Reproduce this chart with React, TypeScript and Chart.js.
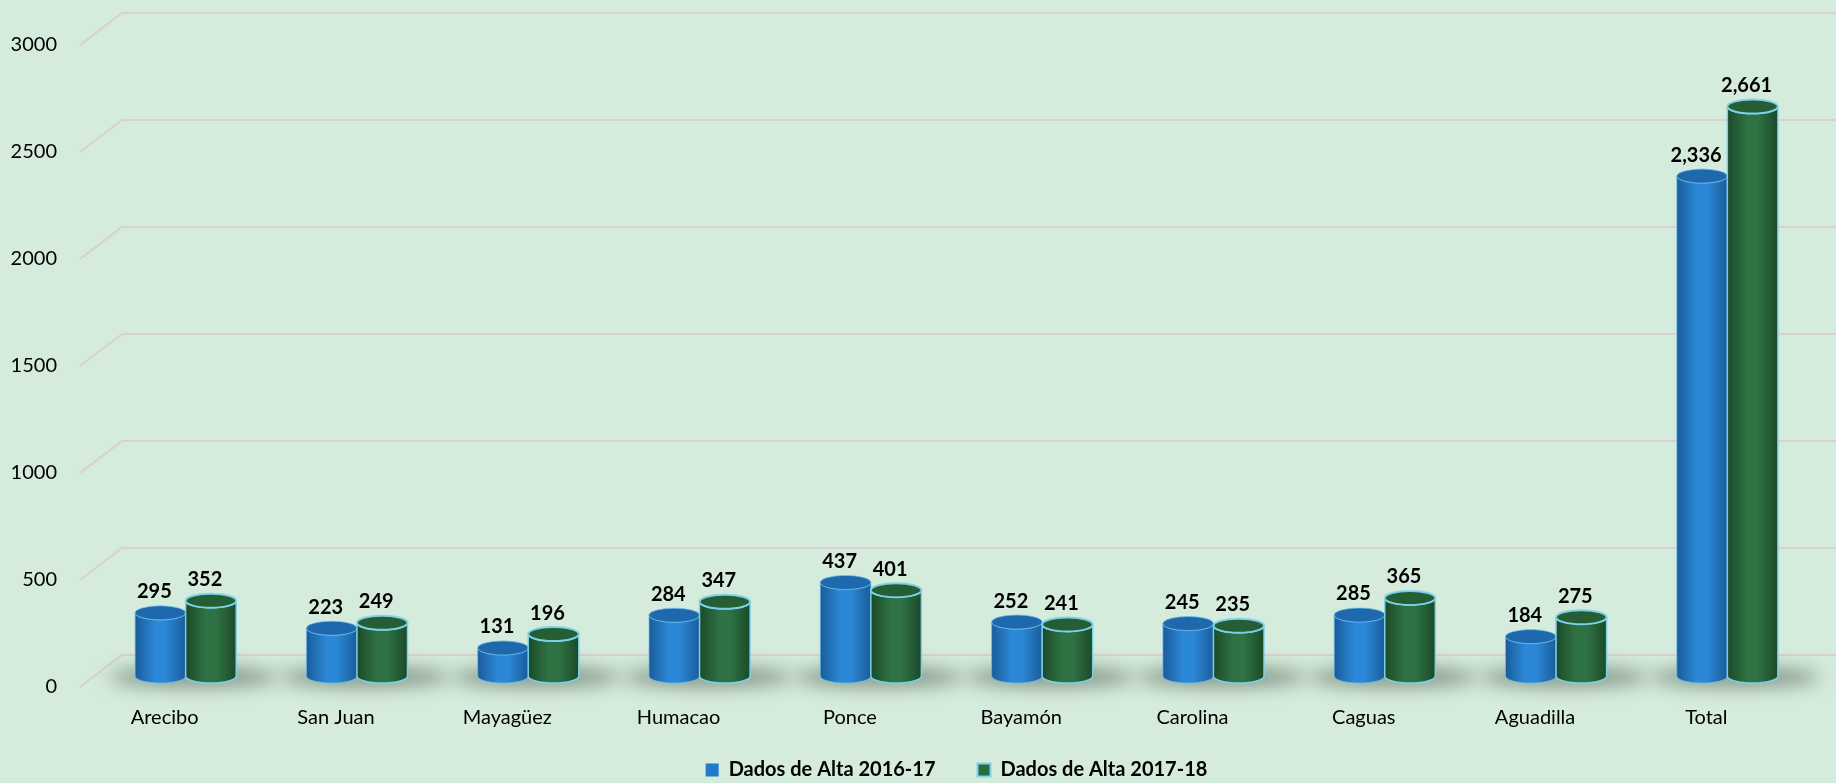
import React, { useEffect, useRef } from 'react';
import { Chart, registerables } from 'chart.js';

Chart.register(...registerables);

const categories = ['Arecibo', 'San Juan', 'Mayagüez', 'Humacao', 'Ponce', 'Bayamón', 'Carolina', 'Caguas', 'Aguadilla', 'Total'];
const series2016 = [295, 223, 131, 284, 437, 252, 245, 285, 184, 2336];
const series2017 = [352, 249, 196, 347, 401, 241, 235, 365, 275, 2661];
const seriesNames = ['Dados de Alta 2016-17', 'Dados de Alta 2017-18'];
const yTicks = [0, 500, 1000, 1500, 2000, 2500, 3000];

const BG = '#d5ebdb';
const GRID = '#dacfd3';
const FONT = "Lato, 'Open Sans', sans-serif";

const fmt = (v: number) => (v >= 1000 ? v.toLocaleString('en-US') : String(v));

const palettes = [
  { edge: '#1a5c9b', mid: '#2b88d6', top: '#1e69ad', outline: 'rgba(110,190,235,0.7)' },
  { edge: '#1b4a29', mid: '#2f7244', top: '#255d35', outline: 'rgba(125,212,236,0.95)' },
];

const cylinderPlugin = {
  id: 'cylinders',
  beforeDraw(chart: any) {
    const { ctx } = chart;
    ctx.save();
    ctx.fillStyle = BG;
    ctx.fillRect(0, 0, chart.width, chart.height);
    ctx.restore();
  },
  beforeDatasetsDraw(chart: any) {
    const { ctx, chartArea } = chart;
    const y = chart.scales.y;
    ctx.save();
    ctx.strokeStyle = GRID;
    ctx.lineWidth = 2;
    yTicks.forEach((v) => {
      const py = y.getPixelForValue(v);
      ctx.beginPath();
      ctx.moveTo(chartArea.left - 20, py + 11);
      ctx.lineTo(chartArea.left + 22, py - 21);
      ctx.lineTo(chart.width, py - 21);
      ctx.stroke();
    });
    const m0 = chart.getDatasetMeta(0);
    const m1 = chart.getDatasetMeta(1);
    m0.data.forEach((b: any, i: number) => {
      const g = m1.data[i];
      const pb = b.getProps(['x', 'base', 'width'], true);
      const pg = g.getProps(['x', 'width'], true);
      const cx = (pb.x + pg.x) / 2;
      const half = (pg.x - pb.x + pb.width) / 2;
      ctx.save();
      ctx.filter = 'blur(9px)';
      ctx.fillStyle = 'rgba(60,78,66,0.55)';
      ctx.beginPath();
      ctx.ellipse(cx + 8, pb.base + 1, half + 34, 10, 0, 0, Math.PI * 2);
      ctx.fill();
      ctx.restore();
    });
    ctx.restore();
  },
  beforeDatasetDraw() {
    return false;
  },
  afterDatasetsDraw(chart: any) {
    const { ctx } = chart;
    const ry = 7;
    [0, 1].forEach((di) => {
      const meta = chart.getDatasetMeta(di);
      const pal = palettes[di];
      const values = chart.data.datasets[di].data as number[];
      meta.data.forEach((el: any, idx: number) => {
        const { x, y, base, width } = el.getProps(['x', 'y', 'base', 'width'], true);
        const rx = width / 2;
        const left = x - rx;
        const right = x + rx;
        ctx.save();
        const grad = ctx.createLinearGradient(left, 0, right, 0);
        grad.addColorStop(0, pal.edge);
        grad.addColorStop(0.4, pal.mid);
        grad.addColorStop(0.6, pal.mid);
        grad.addColorStop(1, pal.edge);
        ctx.beginPath();
        ctx.moveTo(left, y);
        ctx.lineTo(left, base);
        ctx.ellipse(x, base, rx, ry, 0, Math.PI, 0, true);
        ctx.lineTo(right, y);
        ctx.ellipse(x, y, rx, ry, 0, 0, Math.PI, false);
        ctx.closePath();
        ctx.fillStyle = grad;
        ctx.fill();
        ctx.strokeStyle = pal.outline;
        ctx.lineWidth = di === 1 ? 1.5 : 1;
        ctx.stroke();
        ctx.beginPath();
        ctx.ellipse(x, y, rx, ry, 0, 0, Math.PI * 2);
        ctx.fillStyle = pal.top;
        ctx.fill();
        ctx.strokeStyle = pal.outline;
        ctx.lineWidth = di === 1 ? 2 : 1;
        ctx.stroke();
        ctx.restore();

        ctx.save();
        ctx.font = `bold 20px ${FONT}`;
        ctx.fillStyle = '#000';
        ctx.textAlign = 'center';
        ctx.textBaseline = 'bottom';
        ctx.fillText(fmt(values[idx]), x - 6, y - 11);
        ctx.restore();
      });
    });
  },
};

export default function App() {
  const canvasRef = useRef<HTMLCanvasElement | null>(null);

  useEffect(() => {
    document.body.style.margin = '0';
    const canvas = canvasRef.current;
    if (!canvas) return;
    const chart = new Chart(canvas, {
      type: 'bar',
      data: {
        labels: categories,
        datasets: [
          {
            label: seriesNames[0],
            data: series2016,
            backgroundColor: '#2279c9',
            borderColor: '#2279c9',
            borderWidth: 0,
          },
          {
            label: seriesNames[1],
            data: series2017,
            backgroundColor: '#2b6b3e',
            borderColor: '#7fd3ea',
            borderWidth: 2,
          },
        ],
      },
      options: {
        responsive: false,
        animation: false,
        maintainAspectRatio: false,
        datasets: { bar: { barPercentage: 1, categoryPercentage: 0.59 } },
        layout: { padding: { top: 34, right: 23, left: 0, bottom: -7 } },
        plugins: {
          tooltip: { enabled: false },
          legend: {
            position: 'bottom',
            fullSize: false,
            labels: {
              color: '#000',
              font: { family: FONT, size: 20, weight: 'bold' },
              boxWidth: 13,
              boxHeight: 13,
              padding: 42,
            },
          },
        },
        scales: {
          x: {
            grid: { display: false },
            border: { display: false },
            ticks: { color: '#000', font: { family: FONT, size: 20 }, padding: 22, labelOffset: -21 },
            afterFit: (s: any) => {
              s.height = 42;
              s._computeLabelArea = () => undefined;
            },
          },
          y: {
            min: 0,
            max: 3000,
            grid: { display: false },
            border: { display: false },
            ticks: {
              stepSize: 500,
              color: '#000',
              font: { family: FONT, size: 20 },
              padding: 35,
              labelOffset: 11,
              callback: (v: any) => String(v),
            },
            afterFit: (s: any) => {
              s.width = 100;
              s.paddingTop = 0;
              s.paddingBottom = 0;
            },
          },
        },
      },
      plugins: [cylinderPlugin],
    } as any);
    return () => chart.destroy();
  }, []);

  return (
    <div style={{ width: 1836, height: 783, background: BG }}>
      <canvas ref={canvasRef} width={1836} height={783} style={{ display: 'block' }} />
    </div>
  );
}
